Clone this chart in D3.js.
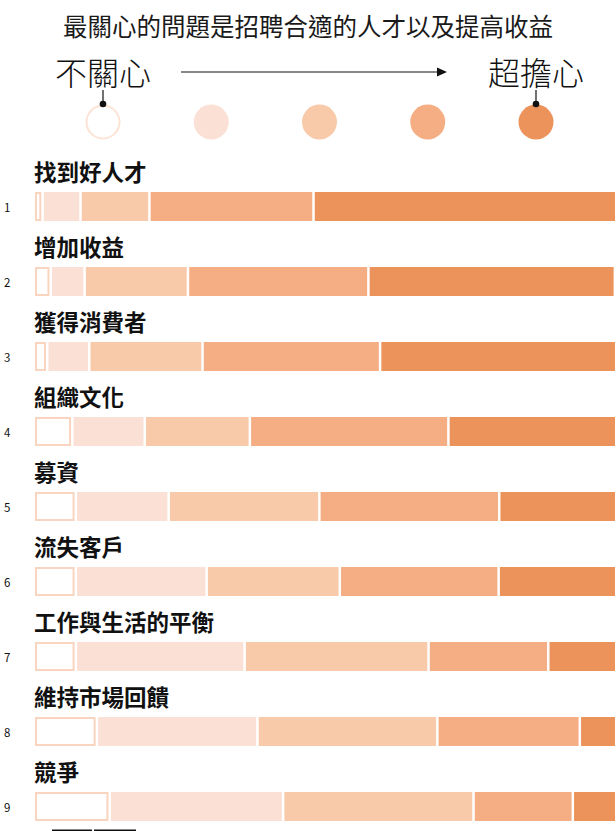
<!DOCTYPE html>
<html>
<head>
<meta charset="utf-8">
<script src="https://cdn.jsdelivr.net/npm/d3@7"></script>
<style>
  html, body { margin: 0; padding: 0; background: #fff; overflow: hidden; }
  svg { display: block; }
  text { font-family: "Noto Sans CJK TC", "Noto Sans CJK SC", "Noto Sans", sans-serif; }
</style>
</head>
<body>
<svg id="chart" width="615" height="831"></svg>
<script>
const title = "最關心的問題是招聘合適的人才以及提高收益";
const scaleLabels = ["不關心", "超擔心"];
const categories = ["找到好人才", "增加收益", "獲得消費者", "組織文化", "募資", "流失客戶", "工作與生活的平衡", "維持市場回饋", "競爭"];
const rank = ["1", "2", "3", "4", "5", "6", "7", "8", "9"];
const levels = ["1", "2", "3", "4", "5"];
const level1 = [1.3, 2.7, 2.1, 6.4, 7.0, 7.0, 7.0, 10.6, 12.8];
const level2 = [6.5, 5.8, 7.2, 12.4, 15.9, 22.4, 28.9, 27.5, 29.7];
const level3 = [11.8, 17.7, 19.4, 18.0, 25.8, 22.8, 31.5, 30.8, 32.6];
const level4 = [28.1, 30.9, 30.4, 34.0, 30.8, 27.2, 20.5, 24.4, 17.0];
const level5 = [52.3, 42.2, 40.9, 29.2, 20.5, 20.6, 12.1, 6.7, 7.9];

const fills = ["#ffffff", "#fbe1d5", "#f8caa9", "#f5ae83", "#ec935c"];
const firstStroke = "#f9d4bf";

const svg = d3.select("#chart");

const table = categories.map((c, i) => {
  const vals = [level1[i], level2[i], level3[i], level4[i], level5[i]];
  let acc = 0;
  const segs = vals.map((v, k) => { const s = { k, start: acc, end: acc + v }; acc += v; return s; });
  return { cat: c, rank: rank[i], segs };
});

const x = d3.scaleLinear().domain([0, 100]).range([35, 619]);
const y = d3.scaleBand().domain(categories).range([192, 192 + 75 * categories.length]).padding(0);
const barH = 29;
const gap = 2.5;
const shift = 1.2;

// Header
svg.append("text")
  .attr("x", 308).attr("y", 25)
  .attr("text-anchor", "middle").attr("dominant-baseline", "central")
  .attr("font-size", 24.5).attr("fill", "#1a1a1a")
  .text(title);

const legendX = d3.scalePoint().domain(levels).range([103, 536]);

svg.append("text")
  .attr("x", legendX(levels[0])).attr("y", 71)
  .attr("text-anchor", "middle").attr("dominant-baseline", "central")
  .attr("font-size", 32).attr("font-weight", 300).attr("fill", "#111")
  .text(scaleLabels[0]);
svg.append("text")
  .attr("x", legendX(levels[4])).attr("y", 71)
  .attr("text-anchor", "middle").attr("dominant-baseline", "central")
  .attr("font-size", 32).attr("font-weight", 300).attr("fill", "#111")
  .text(scaleLabels[1]);

// arrow
svg.append("line")
  .attr("x1", 181).attr("x2", 440).attr("y1", 72).attr("y2", 72)
  .attr("stroke", "#111").attr("stroke-width", 1.2);
svg.append("path")
  .attr("d", "M437,67.5 L447,72 L437,76.5 Z")
  .attr("fill", "#111");

// legend circles
const legend = svg.append("g");
legend.selectAll("circle.lg").data(levels).join("circle")
  .attr("class", "lg")
  .attr("cx", d => legendX(d)).attr("cy", 122)
  .attr("r", (d, i) => i === 0 ? 16.5 : 17.5)
  .attr("fill", (d, i) => fills[i])
  .attr("stroke", (d, i) => i === 0 ? "#fce3d6" : "none")
  .attr("stroke-width", 2);

[levels[0], levels[4]].forEach(l => {
  svg.append("line")
    .attr("x1", legendX(l)).attr("x2", legendX(l))
    .attr("y1", 90).attr("y2", 104)
    .attr("stroke", "#111").attr("stroke-width", 1.2);
  svg.append("circle")
    .attr("cx", legendX(l)).attr("cy", 104).attr("r", 3.3).attr("fill", "#111");
});

// rows
const rows = svg.selectAll("g.row").data(table).join("g").attr("class", "row");

rows.append("text")
  .attr("x", 34).attr("y", d => y(d.cat) - 21)
  .attr("dominant-baseline", "central")
  .attr("font-size", 22.5).attr("font-weight", 700).attr("fill", "#111")
  .text(d => d.cat);

rows.append("text")
  .attr("x", 4).attr("y", d => y(d.cat) + barH / 2)
  .attr("dominant-baseline", "central")
  .attr("font-family", "Noto Sans, sans-serif")
  .attr("font-size", 11.5).attr("fill", "#111")
  .text(d => d.rank);

rows.each(function (d) {
  const g = d3.select(this);
  g.selectAll("rect.seg").data(d.segs).join("rect")
    .attr("class", "seg")
    .attr("x", s => s.k === 0 ? x(s.start) + 1 : x(s.start) + shift)
    .attr("y", s => s.k === 0 ? y(d.cat) + 1 : y(d.cat))
    .attr("width", s => s.k === 0
      ? Math.max(0.5, x(s.end) - x(s.start) + shift - gap - 2)
      : Math.max(0.5, x(s.end) - x(s.start) - gap))
    .attr("height", s => s.k === 0 ? barH - 2 : barH)
    .attr("fill", s => fills[s.k])
    .attr("stroke", s => s.k === 0 ? firstStroke : "none")
    .attr("stroke-width", 2);
});

// cut-off marks at bottom edge
svg.append("rect").attr("x", 52).attr("y", 829.5).attr("width", 40).attr("height", 2).attr("fill", "#111");
svg.append("rect").attr("x", 94).attr("y", 829.5).attr("width", 42).attr("height", 2).attr("fill", "#111");
</script>
</body>
</html>
